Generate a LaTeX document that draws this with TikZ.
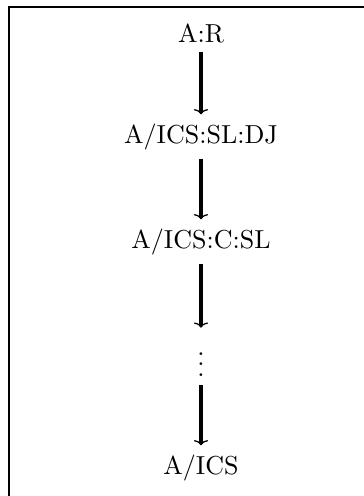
\documentclass[tikz,border=0pt]{standalone}
\usetikzlibrary{arrows.meta}
\begin{document}
\begin{tikzpicture}[x=0.3846pt,y=-0.3846pt,
  lbl/.style={anchor=base,inner sep=3.33pt,font=\normalsize},
  arr/.style={line width=1.3pt,-{To[width=5.4pt,length=2pt,line width=0.5pt]}}]
\useasboundingbox (0,0) rectangle (364,496);
\draw[line width=0.8pt] (9,496) -- (9,7) -- (364,7);
\node[lbl] (n1) at (201,42) {A:R};
\node[lbl] (n2) at (201,143) {A/ICS:SL:DJ};
\node[lbl] (n3) at (201,248) {A/ICS:C:SL};
\node[lbl] (n4) at (201,376) {$\vdots$};
\node[lbl] (n5) at (201,474) {A/ICS};
\draw[arr] (n1) -- (n2);
\draw[arr] (n2) -- (n3);
\draw[arr] (n3) -- (n4);
\draw[arr] (n4) -- (n5);
\end{tikzpicture}
\end{document}
